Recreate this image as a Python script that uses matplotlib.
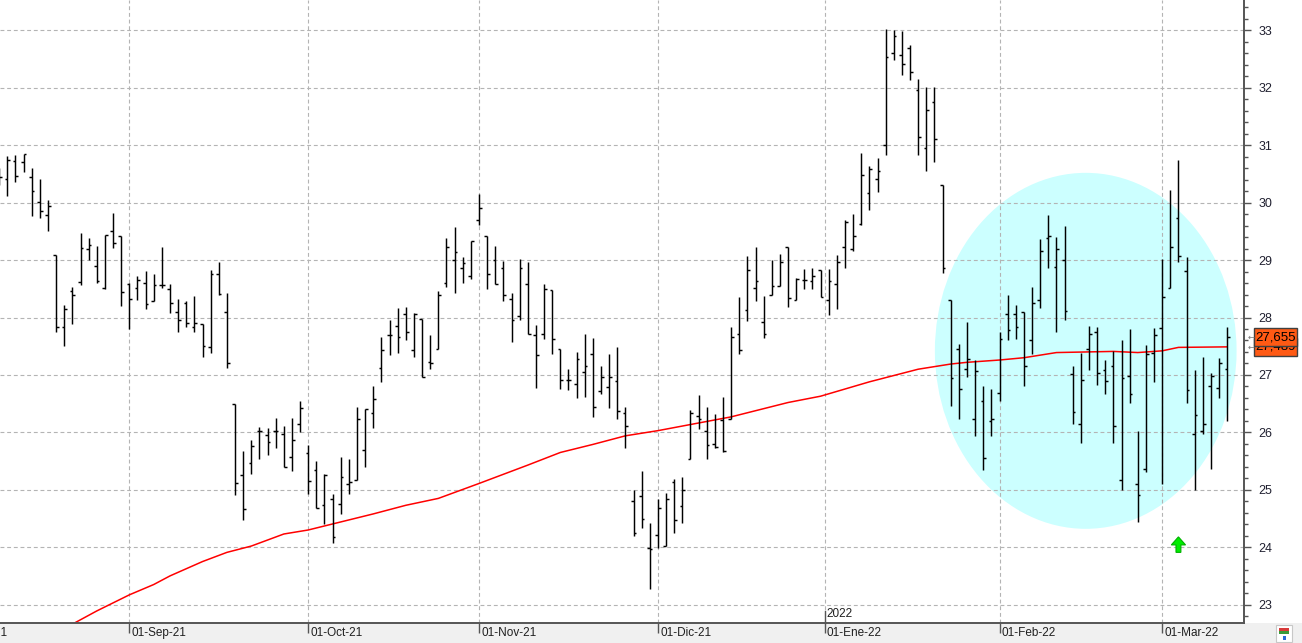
import matplotlib
matplotlib.use("Agg")
import matplotlib.pyplot as plt
import matplotlib.transforms as mtransforms
from matplotlib.patches import Ellipse, Rectangle
from matplotlib.ticker import MultipleLocator

# ---------------------------------------------------------------------------
# Datos OHLC (una barra por sesión, índice 0 = primera barra completa)
# ---------------------------------------------------------------------------
bar_idx = list(range(-1, 151))

opens = [30.50, 30.41, 30.73, 30.70, 30.45, 30.02, 29.78, 29.09, 27.84, 28.47,
         28.62, 29.19, 28.89, 28.52, 29.50, 29.42, 28.59, 28.52, 28.61, 28.28,
         28.56, 28.49, 28.09, 28.26, 27.84, 27.88, 27.48, 28.75, 28.09, 26.49,
         25.25, 25.46, 26.03, 25.96, 26.03, 25.98, 25.57, 26.14, 25.64, 25.34,
         24.74, 24.84, 24.75, 25.10, 25.17, 25.69, 26.33, 27.12, 27.69, 27.85,
         28.07, 27.43, 27.97, 27.22, 27.45, 28.60, 29.00, 28.86, 28.73, 29.69,
         29.42, 29.01, 28.86, 28.32, 28.03, 28.58, 27.70, 27.72, 28.48, 27.46,
         26.92, 26.85, 27.05, 27.37, 26.72, 26.79, 26.89, 26.33, 24.80, 24.89,
         23.98, 24.21, 24.02, 25.13, 24.71, 25.53, 26.28, 26.02, 25.80, 26.22,
         26.24, 27.72, 28.13, 28.51, 27.93, 28.39, 28.55, 29.22, 28.30, 28.65,
         28.64, 28.83, 28.30, 28.58, 29.22, 29.19, 29.63, 30.17, 30.42, 31.00,
         32.60, 32.57, 32.69, 31.96, 30.95, 31.76, 30.31, 28.30, 27.45, 27.10,
         26.23, 26.55, 26.20, 26.69, 28.07, 28.07, 28.10, 27.60, 28.30, 29.38,
         28.88, 29.00, 27.01, 26.15, 27.45, 27.74, 27.09, 27.16, 25.17, 26.99,
         25.10, 25.36, 27.39, 27.81, 28.52, 29.74, 28.81, 25.98, 26.02, 26.81,
         26.78, 27.10]

highs = [30.60, 30.81, 30.83, 30.85, 30.61, 30.41, 30.04, 29.09, 28.22, 28.53,
         29.47, 29.38, 29.24, 29.44, 29.82, 29.42, 28.60, 28.72, 28.81, 28.75,
         29.22, 28.59, 28.33, 28.28, 28.37, 27.88, 28.83, 28.96, 28.42, 26.49,
         25.67, 25.87, 26.09, 26.07, 26.25, 26.11, 26.25, 26.55, 25.78, 25.50,
         25.28, 24.92, 25.57, 25.53, 26.44, 26.40, 26.81, 27.66, 27.96, 28.17,
         28.18, 28.08, 27.97, 27.70, 28.46, 29.38, 29.57, 29.05, 29.34, 30.15,
         29.42, 29.24, 28.98, 28.42, 29.02, 28.97, 27.87, 28.58, 28.48, 27.46,
         27.10, 27.40, 27.71, 27.64, 27.16, 27.37, 27.49, 26.44, 24.99, 25.33,
         24.43, 24.84, 24.95, 25.19, 25.22, 26.39, 26.65, 26.45, 26.32, 26.62,
         27.84, 28.35, 29.07, 29.23, 28.37, 29.01, 29.11, 29.22, 28.68, 28.85,
         28.86, 28.83, 28.84, 29.09, 29.70, 29.80, 30.87, 30.64, 30.78, 33.03,
         33.00, 32.99, 32.74, 32.15, 32.01, 32.01, 30.31, 28.30, 27.54, 27.92,
         27.26, 26.81, 26.76, 27.74, 28.39, 28.21, 28.10, 28.54, 29.36, 29.79,
         29.40, 29.59, 27.16, 27.39, 27.85, 27.84, 27.26, 27.41, 27.61, 27.80,
         26.02, 27.53, 27.81, 29.02, 30.22, 30.74, 29.05, 27.09, 27.31, 27.03,
         27.29, 27.84]

lows = [30.30, 30.12, 30.36, 30.54, 29.77, 29.74, 29.51, 27.75, 27.51, 27.88,
        28.57, 29.00, 28.60, 28.50, 29.21, 28.20, 27.80, 28.30, 28.15, 28.28,
        28.52, 28.08, 27.75, 27.84, 27.75, 27.32, 27.39, 28.40, 27.12, 24.91,
        24.47, 25.27, 25.53, 25.60, 25.72, 25.39, 25.33, 26.01, 24.92, 24.68,
        24.40, 24.08, 24.57, 24.92, 25.17, 25.39, 26.08, 26.88, 27.34, 27.38,
        27.60, 27.32, 26.96, 27.11, 27.45, 28.54, 28.43, 28.61, 28.67, 29.62,
        28.50, 28.58, 28.29, 27.58, 27.96, 27.72, 26.78, 27.63, 27.37, 26.76,
        26.74, 26.59, 26.61, 26.26, 26.66, 26.43, 26.24, 25.72, 24.20, 24.34,
        23.28, 23.98, 24.02, 24.25, 24.43, 25.53, 26.05, 25.54, 25.72, 25.66,
        26.24, 27.36, 27.94, 28.29, 27.65, 28.39, 28.55, 28.18, 28.30, 28.50,
        28.49, 28.36, 28.05, 28.14, 28.86, 29.16, 29.62, 29.87, 30.19, 30.83,
        32.48, 32.22, 32.13, 30.83, 30.56, 30.71, 28.77, 26.46, 26.23, 26.97,
        25.94, 25.35, 25.93, 26.55, 27.61, 27.62, 26.81, 27.37, 28.17, 28.87,
        27.75, 27.95, 26.15, 25.82, 27.09, 26.83, 26.67, 25.82, 24.99, 26.52,
        24.44, 25.31, 26.87, 25.10, 28.51, 28.97, 26.52, 25.00, 25.97, 25.36,
        26.59, 26.20]

closes = [30.44, 30.75, 30.47, 30.85, 30.21, 29.85, 29.95, 27.84, 28.14, 28.40,
          29.21, 29.27, 28.64, 29.43, 29.30, 28.45, 28.33, 28.66, 28.24, 28.57,
          28.57, 28.26, 27.95, 27.90, 27.90, 27.50, 28.75, 28.41, 27.20, 25.12,
          24.66, 25.76, 26.03, 25.83, 26.03, 25.39, 25.87, 26.42, 25.16, 24.68,
          25.26, 24.17, 25.22, 25.13, 26.23, 26.40, 26.58, 27.43, 27.69, 27.66,
          27.74, 28.06, 26.96, 27.21, 28.39, 29.22, 29.14, 28.95, 29.34, 29.90,
          28.75, 28.58, 28.40, 27.95, 28.86, 27.72, 27.35, 28.49, 27.62, 26.91,
          26.92, 27.27, 27.16, 26.44, 26.96, 26.96, 26.37, 26.11, 24.24, 24.49,
          23.97, 24.68, 24.84, 24.47, 24.99, 26.33, 26.23, 25.78, 25.74, 25.67,
          27.66, 27.44, 28.83, 28.63, 27.72, 28.55, 28.97, 28.34, 28.67, 28.65,
          28.72, 28.36, 28.63, 28.96, 29.67, 29.42, 30.49, 30.58, 30.56, 32.53,
          32.90, 32.41, 32.27, 31.14, 31.61, 31.11, 28.86, 26.94, 26.75, 27.27,
          27.07, 25.55, 26.23, 27.63, 27.79, 27.84, 27.16, 28.25, 29.16, 29.42,
          29.19, 28.12, 26.35, 26.92, 27.72, 27.03, 26.90, 26.11, 26.94, 26.67,
          24.91, 27.37, 27.69, 28.36, 29.23, 29.08, 26.73, 26.30, 26.15, 26.99,
          27.21, 27.655]

# Media móvil (lectura del gráfico)
ma_idx = [6, 8, 11, 15, 18, 20, 24, 27, 30, 34, 37, 41, 45, 49, 53, 58, 64, 68,
          72, 76, 80, 89, 96, 100, 106, 112, 116, 118, 122, 125, 129, 136, 139,
          142, 144, 150]
ma_val = [22.52, 22.66, 22.89, 23.17, 23.35, 23.50, 23.75, 23.91, 24.02, 24.23,
          24.30, 24.44, 24.58, 24.73, 24.85, 25.11, 25.43, 25.65, 25.79, 25.94,
          26.03, 26.27, 26.52, 26.63, 26.88, 27.10, 27.19, 27.22, 27.26, 27.30,
          27.39, 27.41, 27.39, 27.42, 27.48, 27.489]

# Etiquetas de meses
month_pos = [-7, 15, 37, 58, 80, 100.5, 122, 142]
month_lbl = ['01-Ago-21', '01-Sep-21', '01-Oct-21', '01-Nov-21', '01-Dic-21',
             '01-Ene-22', '01-Feb-22', '01-Mar-22']

last_price = 27.655
last_ma = 27.489

# ---------------------------------------------------------------------------
W, H = 1302, 643
fig = plt.figure(figsize=(W / 100, H / 100), dpi=100)
fig.patch.set_facecolor('white')

LABEL_FONT = ['Liberation Sans', 'DejaVu Sans']

# banda gris inferior (detrás de los ejes)
fig.patches.append(Rectangle((0, 0), 1, 20 / H, transform=fig.transFigure,
                             facecolor='#f0f0f0', edgecolor='none', zorder=-5))

ax = fig.add_axes([0, 20 / H, 1243.5 / W, 623 / H])
ax.set_facecolor('white')

for s in ['top', 'left']:
    ax.spines[s].set_visible(False)
for s in ['right', 'bottom']:
    ax.spines[s].set_color('#555555')
    ax.spines[s].set_linewidth(1.4)

GRID = dict(color='#b4b4b4', lw=0.8, dashes=(3.5, 2.5), zorder=1)
for v in range(23, 34):
    ax.axhline(v, **GRID)
for p in month_pos[1:]:
    ax.axvline(p, **GRID)

# elipse cian
ax.add_patch(Ellipse((132.6, 27.42), 37.1, 6.2, facecolor='#ccffff',
                     edgecolor='none', zorder=0.5))

# media móvil
ax.plot(ma_idx, ma_val, color='#ff0000', lw=1.1, zorder=2)

# barras OHLC
tw = 0.33
ax.vlines(bar_idx, lows, highs, color='black', lw=1.05, zorder=3)
ax.hlines(opens, [i - tw for i in bar_idx], bar_idx, color='black', lw=1.05, zorder=3)
ax.hlines(closes, bar_idx, [i + tw for i in bar_idx], color='black', lw=1.05, zorder=3)

# flecha verde
ax.arrow(144.0, 23.91, 0, 0.27, width=0.6, head_width=1.75, head_length=0.14,
         length_includes_head=True, facecolor='#00ee00', edgecolor='#00b000',
         lw=0.8, zorder=4)

# eje Y a la derecha
ax.yaxis.tick_right()
ax.yaxis.set_major_locator(MultipleLocator(1))
ax.yaxis.set_minor_locator(MultipleLocator(0.2))
ax.tick_params(axis='y', which='major', length=5, width=1.0, color='#555555',
               pad=6, labelsize=9, labelcolor='#202030')
ax.tick_params(axis='y', which='minor', length=3, width=1.0, color='#555555')
ax.set_yticks(range(23, 34))
ax.set_yticklabels([str(v) for v in range(23, 34)], family=LABEL_FONT)

# eje X: marcas y etiquetas de meses
ax.set_xticks(month_pos)
ax.set_xticklabels([])
ax.tick_params(axis='x', which='major', length=7.2, width=1.0, color='#555555',
               direction='out')

# límites (después de set_xticks, que los amplía)
ax.set_xlim(-0.9, 152.0)
ax.set_ylim(22.68, 33.53)

for p, lbl in zip(month_pos, month_lbl):
    ax.annotate(lbl, xy=(p, 0), xycoords=('data', 'axes fraction'),
                xytext=(1.5, -3.2), textcoords='offset points', ha='left',
                va='top', fontsize=8.5, color='#202020', annotation_clip=False,
                family=LABEL_FONT)

# marca de año
ax.plot([100.5, 100.5], [22.68, 22.68 + 12 / 57.45], color='#555555', lw=1.0,
        zorder=3, clip_on=False)
ax.annotate('2022', xy=(100.5, 0), xycoords=('data', 'axes fraction'),
            xytext=(1.5, 2), textcoords='offset points', ha='left', va='bottom',
            fontsize=8.5, color='#202020', family=LABEL_FONT)

# cajas de último valor
trans = mtransforms.blended_transform_factory(ax.transAxes, ax.transData)
bx = 1254 / 1243.5
bw = 43 / 1243.5
bh = 18 / 57.45
for val, z in [(last_ma, 5), (last_price, 6)]:
    ax.add_patch(Rectangle((bx, val - bh / 2), bw, bh, transform=trans,
                           facecolor='#ff5a14', edgecolor='#404040', lw=1.0,
                           clip_on=False, zorder=z))
    ax.text(bx + bw / 2, val, f'{val:.3f}'.replace('.', ','), transform=trans,
            ha='center', va='center', fontsize=9.5, color='black',
            family=LABEL_FONT, clip_on=False, zorder=z)
    ax.text(1.0065, val, '←', transform=trans, ha='center', va='center',
            fontsize=6, color='#777777', clip_on=False, zorder=z)

# icono esquina inferior derecha
fig.patches.append(Rectangle((1276 / W, 1 / H), 16 / W, 17 / H,
                             transform=fig.transFigure, facecolor='white',
                             edgecolor='#c8c8c8', lw=0.8, zorder=1))
fig.patches.append(Rectangle((1279 / W, 9 / H), 10 / W, 5 / H,
                             transform=fig.transFigure, facecolor='#3a9a3a',
                             edgecolor='none', zorder=2))
fig.patches.append(Rectangle((1279 / W, 12 / H), 10 / W, 3 / H,
                             transform=fig.transFigure, facecolor='#d83a3a',
                             edgecolor='none', zorder=2))
fig.patches.append(Rectangle((1283 / W, 3 / H), 3 / W, 4 / H,
                             transform=fig.transFigure, facecolor='#2a6ad8',
                             edgecolor='none', zorder=2))

fig.savefig('out.png', dpi=100, facecolor='white')
